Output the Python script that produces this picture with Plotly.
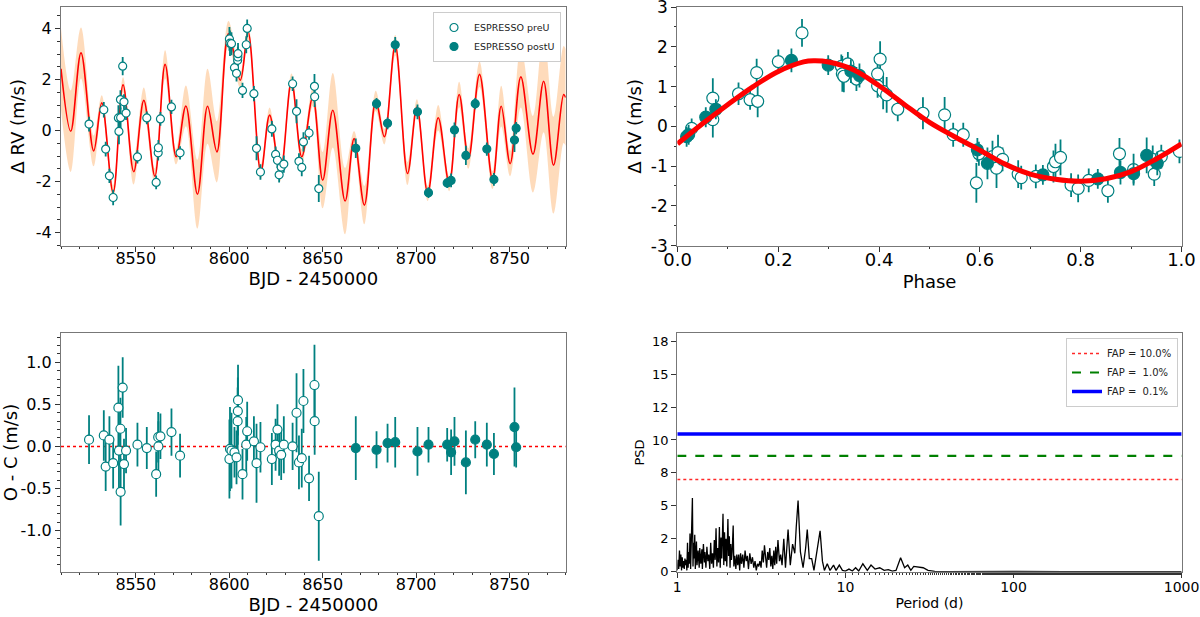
import plotly.graph_objects as go

# ---- datos: serie temporal ESPRESSO (BJD - 2450000) ----
t_pre = [8525.0, 8532.9, 8533.9, 8535.9, 8537.9, 8540.7, 8541.0, 8541.8, 8541.9, 8543.0,
         8543.7, 8544.8, 8550.9, 8555.9, 8560.9, 8562.0, 8562.1, 8563.2, 8569.1, 8573.7,
         8600.1, 8600.4, 8601.2, 8602.8, 8603.9, 8604.5, 8604.6, 8604.7, 8607.1, 8609.1,
         8609.6, 8613.2, 8614.6, 8616.7, 8622.8, 8624.8, 8625.8, 8626.7, 8627.8, 8629.2,
         8633.9, 8636.0, 8637.3, 8638.8, 8639.7, 8642.7, 8645.6, 8645.7, 8647.9]
rv_pre = [0.26, 0.82, -0.72, -1.77, -2.62, 0.50, -0.03, 1.22, 0.51, 2.53,
          1.13, 0.69, -1.03, 0.50, -2.03, -0.87, -0.67, 0.46, 0.93, -0.87,
          3.60, 3.43, 3.41, 2.47, 2.25, 2.76, 2.89, 3.02, 1.58, 3.37,
          4.01, 1.45, -0.69, -1.62, 0.07, -0.93, -1.16, -1.73, -1.43, -1.31,
          1.84, 0.76, -1.20, -1.44, -0.44, -0.09, 1.74, 1.33, -2.27]
oc_pre = [0.08, 0.13, -0.24, 0.08, -0.20, 0.46, -0.05, 0.21, -0.54, 0.70,
          -0.21, -0.05, 0.02, -0.02, -0.33, 0.11, 0.00, 0.12, 0.17, -0.11,
          -0.15, -0.03, -0.05, -0.07, -0.13, 0.30, 0.42, 0.55, -0.33, 0.02,
          0.18, 0.06, -0.20, -0.01, -0.15, 0.02, 0.20, -0.05, -0.10, 0.02,
          0.00, 0.40, -0.19, -0.14, 0.54, -0.38, 0.73, 0.30, -0.83]
err_pre = [0.29, 0.30, 0.29, 0.28, 0.30, 0.50, 0.50, 0.37, 0.40, 0.36,
           0.30, 0.27, 0.26, 0.25, 0.27, 0.30, 0.30, 0.27, 0.28, 0.26,
           0.47, 0.50, 0.45, 0.30, 0.32, 0.40, 0.40, 0.42, 0.30, 0.33,
           0.35, 0.30, 0.47, 0.30, 0.31, 0.31, 0.30, 0.30, 0.30, 0.34,
           0.28, 0.47, 0.32, 0.35, 0.38, 0.27, 0.48, 0.40, 0.53]

t_post = [8667.7, 8678.8, 8684.7, 8688.8, 8700.7, 8706.6, 8716.6, 8718.7, 8720.5, 8726.6,
          8731.6, 8737.8, 8741.6, 8752.6, 8753.5]
rv_post = [-0.69, 1.06, 0.29, 3.37, 0.74, -2.43, -2.05, -1.95, 0.03, -0.97,
           1.06, -0.72, -1.91, -0.37, 0.10]
oc_post = [-0.02, -0.04, 0.04, 0.05, -0.06, 0.02, 0.02, -0.07, 0.06, -0.19,
           0.08, 0.02, -0.09, 0.23, -0.01]
err_post = [0.38, 0.22, 0.23, 0.30, 0.29, 0.21, 0.20, 0.27, 0.29, 0.38,
            0.22, 0.26, 0.25, 0.47, 0.24]

# modelo (extremos) y anchura de la banda
gp_t = [8510.0, 8515.2, 8520.7, 8527.5, 8531.8, 8537.9, 8543.2, 8548.9, 8554.3, 8560.2,
        8565.7, 8571.6, 8576.8, 8583.0, 8588.4, 8593.4, 8599.6, 8605.9, 8610.1, 8616.9,
        8621.6, 8627.3, 8633.3, 8638.8, 8644.7, 8650.0, 8655.4, 8662.0, 8666.8, 8672.3,
        8678.4, 8683.0, 8688.8, 8695.4, 8700.4, 8706.2, 8711.8, 8717.7, 8723.0, 8728.0,
        8733.9, 8740.9, 8745.5, 8750.3, 8756.0, 8762.5, 8768.2, 8773.5, 8778.9, 8780.0]
gp_rv = [2.43, -0.02, 3.05, -0.79, 1.09, -2.43, 1.80, -1.61, 1.19, -1.78,
         2.60, -1.02, 0.97, -2.49, 0.96, -0.83, 3.80, 1.98, 3.87, -1.61,
         0.61, -1.68, 1.94, -1.02, 1.32, -1.94, 0.80, -2.76, -0.31, -2.92,
         1.17, -0.24, 3.35, -1.68, 0.93, -2.46, 0.51, -2.07, 1.42, -1.09,
         2.21, -1.94, 0.96, -1.29, 2.11, -0.92, 1.94, -1.35, 1.42, 1.30]
gp_sig = [1.6, 1.6, 1.0, 0.6, 0.3, 0.3, 0.3, 0.5, 0.5, 0.3,
          0.55, 0.3, 0.8, 1.35, 1.47, 1.2, 0.5, 0.3, 0.3, 0.3,
          0.3, 0.3, 0.3, 0.3, 0.35, 1.1, 1.46, 1.3, 0.3, 0.75,
          0.4, 0.3, 0.4, 0.45, 0.3, 0.3, 0.5, 0.3, 0.5, 0.4,
          0.5, 0.35, 0.8, 0.5, 1.2, 1.5, 2.0, 1.9, 1.9, 1.9]

# ---- datos: curva en fase ----
ph_pre = [0.028, 0.070, 0.070, 0.121, 0.144, 0.157, 0.159, 0.200, 0.247, 0.325,
          0.327, 0.330, 0.338, 0.355, 0.397, 0.402, 0.397, 0.408, 0.415, 0.437,
          0.487, 0.530, 0.547, 0.567, 0.598, 0.593, 0.625, 0.633, 0.636, 0.645,
          0.676, 0.682, 0.711, 0.746, 0.750, 0.760, 0.781, 0.795, 0.816, 0.854,
          0.877, 0.905, 0.943, 0.946, 0.960, 0.996]
ph_rv_pre = [-0.05, 0.71, 0.17, 0.82, 0.67, 1.35, 0.63, 1.63, 2.35, 1.51,
             1.32, 1.26, 1.57, 1.19, 1.32, 1.69, 1.02, 0.88, 0.79, 0.43,
             0.33, 0.29, -0.21, -0.21, -0.69, -1.42, -0.76, -1.05, -0.66, -0.83,
             -1.20, -1.29, -1.26, -1.01, -0.89, -0.78, -1.48, -1.56, -1.36, -1.62,
             -0.69, -1.09, -0.83, -1.20, -0.76, -0.63]
ph_err_pre = [0.25, 0.50, 0.45, 0.28, 0.25, 0.35, 0.40, 0.30, 0.35, 0.30,
              0.45, 0.40, 0.30, 0.30, 0.30, 0.45, 0.30, 0.45, 0.45, 0.30,
              0.40, 0.45, 0.30, 0.30, 0.30, 0.50, 0.40, 0.50, 0.45, 0.30,
              0.35, 0.30, 0.30, 0.40, 0.45, 0.45, 0.30, 0.35, 0.30, 0.30,
              0.40, 0.40, 0.35, 0.30, 0.30, 0.30]
ph_post = [0.018, 0.022, 0.056, 0.076, 0.226, 0.299, 0.344, 0.361,
           0.595, 0.615, 0.725, 0.834, 0.879, 0.905, 0.931, 0.952]
ph_rv_post = [-0.26, -0.21, 0.23, 0.43, 1.66, 1.54, 1.39, 1.28,
              -0.59, -0.93, -1.22, -1.32, -1.16, -1.19, -0.73, -0.93]
ph_err_post = [0.25, 0.25, 0.25, 0.25, 0.30, 0.25, 0.30, 0.30,
               0.30, 0.40, 0.25, 0.25, 0.30, 0.25, 0.45, 0.30]

model_phase = [0.0, 0.05, 0.10, 0.15, 0.20, 0.25, 0.27, 0.30, 0.35, 0.40, 0.45, 0.50,
               0.55, 0.60, 0.65, 0.70, 0.75, 0.80, 0.85, 0.90, 0.95, 1.0]
model_rv = [-0.44, 0.07, 0.55, 1.00, 1.38, 1.62, 1.65, 1.62, 1.42, 1.02, 0.55, 0.10,
            -0.26, -0.60, -0.95, -1.20, -1.33, -1.38, -1.32, -1.14, -0.82, -0.44]

# ---- datos: periodograma de los residuos ----
per_d = [1.00, 1.01, 1.02, 1.03, 1.04, 1.05, 1.06, 1.07, 1.08, 1.09, 1.10, 1.11, 1.12, 1.13,
         1.14, 1.15, 1.16, 1.17, 1.18, 1.19, 1.20, 1.21, 1.23, 1.24, 1.25, 1.26, 1.27, 1.28,
         1.30, 1.31, 1.33, 1.35, 1.36, 1.38, 1.40, 1.41, 1.43, 1.45, 1.46, 1.48, 1.50, 1.52,
         1.54, 1.56, 1.58, 1.60, 1.62, 1.64, 1.66, 1.68, 1.70, 1.72, 1.74, 1.76, 1.78, 1.80,
         1.82, 1.84, 1.87, 1.89, 1.91, 1.93, 1.95, 1.97, 2.00, 2.02, 2.04, 2.06, 2.08, 2.10,
         2.12, 2.15, 2.17, 2.20, 2.23, 2.26, 2.29, 2.32, 2.35, 2.38, 2.41, 2.45, 2.49, 2.53,
         2.57, 2.61, 2.65, 2.70, 2.75, 2.80, 2.85, 2.90, 2.95, 3.00, 3.05, 3.10, 3.15, 3.20,
         3.25, 3.30, 3.35, 3.40, 3.45, 3.50, 3.55, 3.60, 3.65, 3.70, 3.75, 3.80, 3.85, 3.90,
         3.97, 4.05, 4.12, 4.20, 4.30, 4.40, 4.56, 4.70, 4.85, 5.00, 5.10, 5.23, 5.40, 5.60,
         5.80, 5.93, 6.10, 6.30, 6.50, 6.80, 7.07, 7.30, 7.50, 7.80, 8.10, 8.50, 8.80, 9.20,
         9.60, 10.0, 10.5, 11.0, 11.5, 12.0, 12.7, 13.5, 14.2, 15.0, 16.0, 17.0, 18.0, 19.0,
         20.0, 21.3, 22.5, 23.5, 24.5, 25.5, 27.0, 29.0, 31.0, 34.0, 40.0, 60.0, 80.0, 100.0,
         200.0, 500.0, 1000.0]
psd = [0.1, 0.9, 0.2, 1.6, 0.4, 1.3, 0.1, 1.1, 0.3, 0.8, 0.2, 1.0, 0.5, 0.9,
       0.1, 2.2, 0.3, 1.5, 0.6, 2.9, 0.2, 1.9, 5.6, 0.4, 2.2, 1.0, 2.8, 0.2,
       2.3, 0.5, 1.6, 0.3, 1.8, 0.6, 1.7, 0.2, 2.1, 0.7, 1.5, 0.3, 1.9, 0.8,
       1.3, 0.2, 2.2, 0.6, 1.4, 0.3, 2.4, 0.9, 3.3, 0.4, 1.8, 0.7, 3.4, 0.3,
       2.6, 1.0, 4.4, 0.5, 3.0, 0.8, 2.5, 0.4, 4.0, 1.2, 2.7, 0.3, 2.1, 0.9,
       1.5, 3.5, 0.4, 1.2, 0.2, 1.3, 0.5, 1.3, 0.1, 1.4, 0.6, 1.3, 0.3, 1.6,
       0.8, 1.2, 0.2, 1.4, 0.6, 1.1, 0.3, 0.8, 0.1, 0.6, 0.4, 0.8, 0.3, 1.6,
       0.7, 2.0, 1.1, 0.3, 1.5, 0.9, 1.8, 0.4, 1.2, 0.2, 1.6, 0.5, 1.9, 0.6,
       2.4, 0.8, 1.3, 0.5, 2.5, 0.3, 3.2, 0.5, 2.1, 1.4, 3.4, 5.4, 1.5, 0.3,
       1.8, 3.2, 1.0, 1.0, 0.1, 1.8, 3.1, 0.8, 0.1, 0.6, 0.1, 0.5, 0.1, 0.5,
       0.1, 0.05, 0.2, 0.05, 0.3, 0.05, 0.6, 0.1, 0.5, 0.2, 0.3, 0.1, 0.15, 0.05,
       0.1, 1.06, 0.3, 0.5, 0.1, 0.4, 0.35, 0.3, 0.1, 0.02, 0.01, 0.03, 0.03, 0.02,
       0.01, 0.0, 0.0]

fap_labels = ["FAP = 10.0%", "FAP =  1.0%", "FAP =  0.1%"]
fap_levels = [7.0, 8.8, 10.45]
fap_styles = [dict(color="rgb(255,40,40)", width=1.3, dash="dot"),
              dict(color="green", width=2.2, dash="dash"),
              dict(color="blue", width=3.5, dash="solid")]

TEAL = "#008080"
FONT = "DejaVu Sans"

fig = go.Figure()

# banda del modelo
banda_sup = [v + s for v, s in zip(gp_rv, gp_sig)]
banda_inf = [v - s for v, s in zip(gp_rv, gp_sig)]
fig.add_trace(go.Scatter(x=gp_t, y=banda_sup, mode="lines", line=dict(width=0, shape="spline"),
                         showlegend=False, hoverinfo="skip", xaxis="x", yaxis="y"))
fig.add_trace(go.Scatter(x=gp_t, y=banda_inf, mode="lines", line=dict(width=0, shape="spline"),
                         fill="tonexty", fillcolor="rgba(253,200,150,0.65)",
                         showlegend=False, hoverinfo="skip", xaxis="x", yaxis="y"))
fig.add_trace(go.Scatter(x=gp_t, y=gp_rv, mode="lines", line=dict(color="red", width=1.6, shape="spline"),
                         showlegend=False, xaxis="x", yaxis="y"))


def puntos(x, y, e, filled, size, ax, ay, name=None, legend=None):
    return go.Scatter(
        x=x, y=y, mode="markers", xaxis=ax, yaxis=ay,
        error_y=dict(type="data", array=e, color=TEAL, thickness=1.8, width=0),
        marker=dict(size=size, color=TEAL if filled else "white", line=dict(color=TEAL, width=1.2)),
        name=name, showlegend=legend is not None, legend=legend or "legend")


fig.add_trace(puntos(t_pre, rv_pre, err_pre, False, 8, "x", "y", "ESPRESSO preU", "legend"))
fig.add_trace(puntos(t_post, rv_post, err_post, True, 8, "x", "y", "ESPRESSO postU", "legend"))

# fase
fig.add_trace(puntos(ph_pre, ph_rv_pre, ph_err_pre, False, 12, "x2", "y2"))
fig.add_trace(puntos(ph_post, ph_rv_post, ph_err_post, True, 12, "x2", "y2"))
fig.add_trace(go.Scatter(x=model_phase, y=model_rv, mode="lines", line=dict(color="red", width=5, shape="spline"),
                         showlegend=False, xaxis="x2", yaxis="y2"))

# residuos
fig.add_trace(go.Scatter(x=[8510, 8780], y=[0, 0], mode="lines", line=dict(color="red", width=1.5, dash="dot"),
                         showlegend=False, xaxis="x3", yaxis="y3"))
fig.add_trace(puntos(t_pre, oc_pre, err_pre, False, 9, "x3", "y3"))
fig.add_trace(puntos(t_post, oc_post, err_post, True, 9, "x3", "y3"))

# periodograma
fig.add_trace(go.Scatter(x=per_d, y=psd, mode="lines", line=dict(color="black", width=1.3),
                         showlegend=False, xaxis="x4", yaxis="y4"))
for lab, lev, sty in zip(fap_labels, fap_levels, fap_styles):
    fig.add_trace(go.Scatter(x=[1, 1000], y=[lev, lev], mode="lines", line=sty, name=lab,
                             legend="legend2", xaxis="x4", yaxis="y4"))


def eje(size=16, **kw):
    d = dict(showline=True, mirror=True, linecolor="#777", linewidth=1.3, ticks="outside",
             ticklen=5, tickwidth=1, tickcolor="#333", showgrid=False, zeroline=False,
             ticklabeloverflow="allow",
             tickfont=dict(family=FONT, size=size, color="black"))
    d.update(kw)
    return d


def titulo(txt, size=18, standoff=4):
    return dict(text=txt, font=dict(family=FONT, size=size, color="black"), standoff=standoff)


L = [61 / 1200, 565.7 / 1200]
R = [677.3 / 1200, 1181.7 / 1200]
TOP = [1 - 245.7 / 617, 1 - 7 / 617]
BOT = [1 - 571.7 / 617, 1 - 333.3 / 617]

fig.update_layout(
    width=1200, height=617, margin=dict(l=0, r=0, t=0, b=0, autoexpand=False),
    paper_bgcolor="white", plot_bgcolor="white", hovermode=False,
    font=dict(family=FONT, color="black"),
    xaxis=eje(domain=L, anchor="y", range=[8510, 8780], tickvals=[8550, 8600, 8650, 8700, 8750],
              ticklabelstandoff=-7,
              minor=dict(ticks="outside", ticklen=2.5, dtick=10, tickcolor="#333"),
              title=titulo("BJD - 2450000", 18, 4)),
    yaxis=eje(domain=TOP, anchor="x", range=[-4.51, 4.85], tickvals=[-4, -2, 0, 2, 4],
              ticktext=["-4", "-2", "0", "2", "4"],
              minor=dict(ticks="outside", ticklen=2.5, dtick=0.5, tickcolor="#333"),
              title=titulo("Δ RV (m/s)", 18, 6)),
    xaxis2=eje(size=18, domain=R, anchor="y2", range=[-0.0005, 1.0005],
               tickvals=[0, 0.2, 0.4, 0.6, 0.8, 1.0], ticktext=["0.0", "0.2", "0.4", "0.6", "0.8", "1.0"],
               ticklabelstandoff=-7,
               minor=dict(ticks="outside", ticklen=2.5, dtick=0.1, tickcolor="#333"),
               title=titulo("Phase", 18, 5)),
    yaxis2=eje(size=17, domain=TOP, anchor="x2", range=[-3.002, 3.002], tickvals=[-3, -2, -1, 0, 1, 2, 3],
               ticktext=["-3", "-2", "-1", "0", "1", "2", "3"],
               minor=dict(ticks="outside", ticklen=2.5, dtick=0.5, tickcolor="#333"),
               title=titulo("Δ RV (m/s)", 18, 4)),
    xaxis3=eje(domain=L, anchor="y3", range=[8510, 8780], tickvals=[8550, 8600, 8650, 8700, 8750],
               ticklabelstandoff=-7,
               minor=dict(ticks="outside", ticklen=2.5, dtick=10, tickcolor="#333"),
               title=titulo("BJD - 2450000", 18, 4)),
    yaxis3=eje(domain=BOT, anchor="x3", range=[-1.49, 1.345], tickvals=[-1, -0.5, 0, 0.5, 1],
               ticktext=["-1.0", "-0.5", "0.0", "0.5", "1.0"],
               minor=dict(ticks="outside", ticklen=2.5, dtick=0.1, tickcolor="#333"),
               title=titulo("O - C (m/s)", 18, 4)),
    xaxis4=eje(size=14, domain=R, anchor="y4", type="log", range=[0, 3.0005], tickvals=[1, 10, 100, 1000],
               ticktext=["1", "10", "100", "1000"], ticklabelstandoff=-3,
               minor=dict(ticks="outside", ticklen=2.5, tickcolor="#333"),
               title=titulo("Period (d)", 14, 4)),
    yaxis4=eje(size=13, domain=BOT, anchor="x4", range=[0, 18.1],
               tickvals=[0, 2.5, 5, 7.5, 10, 12.5, 15, 17.5],
               ticktext=["0", "2", "5", "8", "10", "12", "15", "18"],
               title=titulo("PSD", 13, 4)),
    legend=dict(x=561 / 1200, y=1 - 12 / 617, xanchor="right", yanchor="top", traceorder="normal",
                bgcolor="white", bordercolor="#ccc", borderwidth=1, tracegroupgap=0,
                font=dict(family=FONT, size=9.5, color="#222"), itemwidth=30),
    legend2=dict(x=1178 / 1200, y=1 - 338 / 617, xanchor="right", yanchor="top", traceorder="normal",
                 bgcolor="white", bordercolor="#ccc", borderwidth=1,
                 font=dict(family=FONT, size=10, color="#222"), itemwidth=30),
)

# sin margen del <body>, para que la figura empiece en (0, 0)
fig.write_html("out.html", post_script="document.body.style.margin='0';",
               config={"displayModeBar": False})
